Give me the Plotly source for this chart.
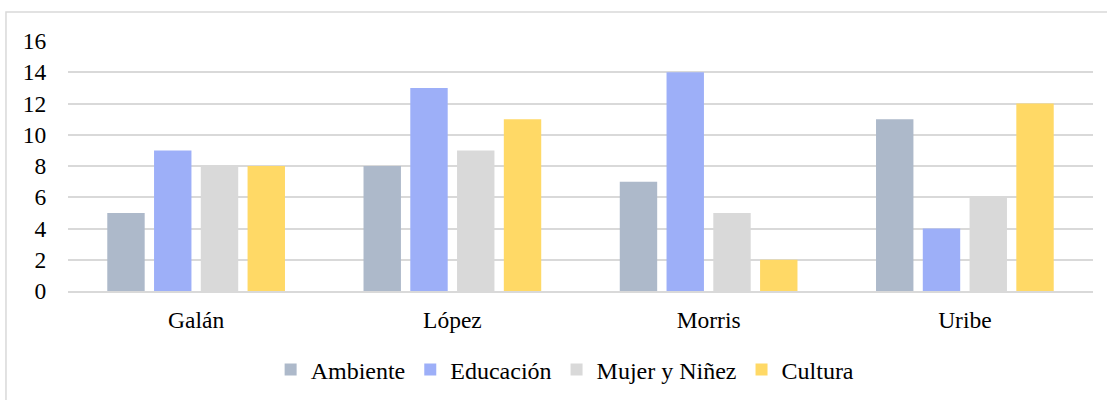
import plotly.graph_objects as go

candidates = ["Galán", "López", "Morris", "Uribe"]
ambiente = [5, 8, 7, 11]
educacion = [9, 13, 14, 4]
mujer_ninez = [8, 9, 5, 6]
cultura = [8, 11, 2, 12]
y_ticks = [0, 2, 4, 6, 8, 10, 12, 14, 16]

series = [
    ("Ambiente", ambiente, "#ADB9CA"),
    ("Educación", educacion, "#9DAFF8"),
    ("Mujer y Niñez", mujer_ninez, "#D9D9D9"),
    ("Cultura", cultura, "#FFD966"),
]

fig = go.Figure()
for name, vals, color in series:
    fig.add_trace(go.Bar(x=candidates, y=vals, name=name, marker_color=color,
                         marker_line_width=0))

family = "'Liberation Serif', 'Times New Roman', serif"
tick_font = dict(family=family, size=23.5, color="#000000")
legend_font = dict(family=family, size=24, color="#000000")

fig.update_layout(
    width=1107, height=400,
    margin=dict(l=68, r=14, t=41, b=109, autoexpand=False),
    paper_bgcolor="white", plot_bgcolor="white",
    barmode="group", bargap=0.27, bargroupgap=0.2,
    font=tick_font,
    legend=dict(orientation="h", x=0.485, xanchor="center", y=-0.316, yanchor="middle",
                font=legend_font, itemwidth=30),
    xaxis=dict(showgrid=False, showline=True, linecolor="#D9D9D9", linewidth=1.5,
               ticks="outside", ticklen=7, tickcolor="rgba(0,0,0,0)", tickfont=tick_font,
               automargin=False),
    yaxis=dict(range=[0, 16], tickvals=y_ticks, showgrid=True, gridcolor="#D9D9D9",
               gridwidth=1.5, zeroline=False, showline=False, ticks="outside",
               ticklen=16, tickcolor="rgba(0,0,0,0)", tickfont=tick_font,
               automargin=False),
    shapes=[dict(type="rect", xref="paper", yref="paper",
                 x0=-0.0605, x1=1.02, y0=-0.45, y1=1.116,
                 line=dict(color="#D9D9D9", width=1.5), fillcolor="rgba(0,0,0,0)",
                 layer="below")],
)

fig.write_html("out.html")
